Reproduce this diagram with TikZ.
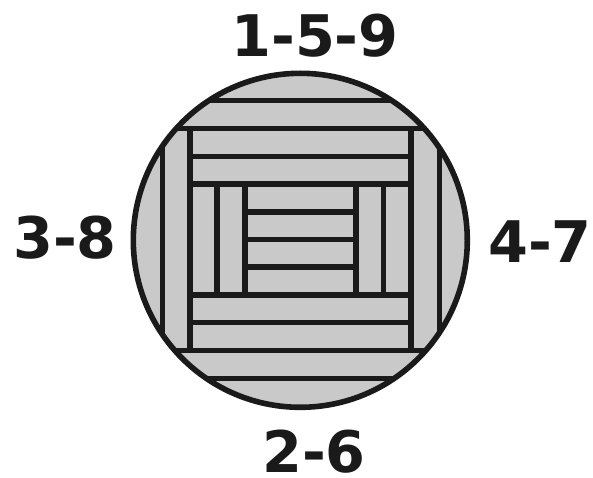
\documentclass[tikz,border=0pt]{standalone}
\usepackage{fontspec}
\setmainfont{DejaVu Sans}
\usepackage{tikz}
\definecolor{PanelGray}{HTML}{C9C9C9}
\definecolor{BarBlack}{HTML}{1A1A1A}

\begin{document}
\begin{tikzpicture}[
  x=0.75pt,y=-0.75pt,
  bar/.style={draw=BarBlack,line width=4.2pt},
  rim/.style={draw=BarBlack,line width=4.2pt},
  numlabel/.style={font=\fontsize{43}{43}\selectfont\bfseries,text=BarBlack,inner sep=0pt,anchor=base}
]
\useasboundingbox (0,0) rectangle (593,478);

% Disc and its bars
\fill[PanelGray] (300.3,240.3) circle (167*0.75pt);
\begin{scope}
  \clip (300.3,240.3) circle (167*0.75pt);
  \foreach \ypos in {100.7,128.7,350.3,378.3} {
    \draw[bar] (120,\ypos) -- (480,\ypos);
  }
  \foreach \xpos in {162.3,439.3} {
    \draw[bar] (\xpos,128.7) -- (\xpos,350.3);
  }
\end{scope}

% Frame
\foreach \xpos in {190,411} {
  \draw[bar] (\xpos,128.7) -- (\xpos,350.3);
}
\foreach \ypos in {156.3,184,294.7,322.3} {
  \draw[bar] (190,\ypos) -- (411,\ypos);
}

% Inner block
\foreach \xpos in {217,245,356,383.3} {
  \draw[bar] (\xpos,184) -- (\xpos,294.7);
}
\foreach \ypos in {211.7,239.3,267} {
  \draw[bar] (245,\ypos) -- (356,\ypos);
}

\draw[rim] (300.3,240.3) circle (167*0.75pt);

% Labels
\node[numlabel] (top) at (315,57) {1-5-9};
\node[numlabel] (left) at (65,258) {3-8};
\node[numlabel] (right) at (540,262) {4-7};
\node[numlabel] (bottom) at (314,472) {2-6};
\end{tikzpicture}
\end{document}
